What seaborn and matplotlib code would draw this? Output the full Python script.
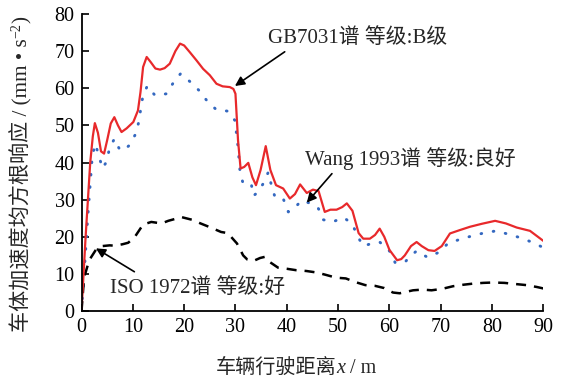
import numpy as np
import pandas as pd
import matplotlib
matplotlib.use("Agg")
import matplotlib.pyplot as plt
import seaborn as sns

# ---------------- data ----------------
gb_x = [0, 0.8, 1.7, 2.2, 2.6, 3.2, 3.8, 4.4, 5.0, 5.7, 6.4, 7.1, 7.8, 8.8, 10.1, 11.0, 11.5,
        12.0, 12.7, 13.5, 14.4, 15.3, 16.2, 17.2, 18.3, 19.2, 20.0, 21.1, 22.4, 23.7, 25.0,
        26.3, 27.5, 28.9, 29.6, 30.0, 30.5, 31.0, 31.7, 32.5, 33.3, 34.0, 34.9, 35.9, 36.8,
        37.9, 39.3, 40.6, 41.6, 42.6, 43.9, 45.1, 46.2, 47.4, 48.5, 49.7, 50.8, 51.7, 52.8,
        54.0, 54.9, 56.2, 57.2, 58.1, 59.0, 60.0, 61.5, 62.3, 63.0, 64.2, 65.3, 66.3, 67.6,
        68.8, 70.2, 71.8, 73.7, 75.7, 78.0, 80.6, 82.7, 84.8, 87.4, 90.0]
gb_y = [0, 20, 40, 47, 50.6, 48, 43, 42.4, 46, 50.5, 52.2, 50, 48.2, 49.2, 50.9, 54, 59,
        65.7, 68.4, 67, 65.3, 65, 65.4, 66.6, 70, 72, 71.5, 69.7, 67.5, 65.2, 63.5,
        61.2, 60.5, 60.3, 59.8, 58.5, 46, 38.4, 38.8, 39.9, 36, 33.9, 38, 44.4, 38,
        33.9, 33.0, 30.3, 31.5, 34.1, 31.8, 32.7, 32.3, 26.7, 27.3, 27.3, 28, 29, 27,
        21, 19.5, 19.5, 20.5, 22.2, 20, 16.5, 13.7, 14, 15, 17.5, 18.6, 17.5, 16.4,
        16.2, 17.5, 20.9, 21.8, 22.7, 23.5, 24.3, 23.6, 22.5, 21.6, 18.9]

wang_x = [0, 0.6, 1.2, 1.9, 2.1, 2.7, 3.4, 4.1, 4.9, 5.4, 6.4, 7.5, 8.4, 9.3, 10.6, 11.1,
          11.5, 11.9, 12.8, 14.3, 16.6, 17.9, 19.3, 21.2, 22.9, 24.4, 26.2, 28.6, 29.9,
          30.2, 30.5, 30.9, 31.5, 33.1, 33.5, 34.4, 35.4, 36.4, 37.0, 37.7, 39.3, 40.3,
          41.4, 42.9, 44.4, 46.1, 47.1, 48.9, 51.1, 52.8, 53.7, 54.9, 57.0, 58.1, 60.0,
          61.1, 63.0, 63.9, 65.3, 67.4, 69.6, 71.4, 73.7, 76.0, 78.3, 80.8, 83.2, 85.4,
          87.7, 90.0]
wang_y = [0, 12, 25, 38, 41.9, 45, 41.7, 38.4, 40.3, 43.5, 46.4, 43.3, 43.5, 44.6, 47.8, 50.6,
          54, 57.4, 60.6, 58.1, 58.5, 61.5, 63.9, 61.7, 59.4, 56.7, 54.3, 53.8, 51.3,
          47.8, 44.2, 37.4, 34.3, 34.1, 31, 32.1, 34.3, 37.4, 33.9, 30.7, 30.3, 26.7,
          27.6, 29.8, 29.1, 27.8, 24.6, 24, 25.2, 23.4, 20.4, 17.5, 18.4, 18.6, 16.2,
          13.1, 13.1, 14.6, 16.2, 14.5, 15.8, 18.2, 19.3, 20.2, 21, 21.6, 20.7, 19.8,
          18.6, 17.1]

iso_x = [0, 0.5, 1.5, 2.8, 4.0, 5.5, 6.5, 8.0, 9.1, 10.4, 12.0, 13.6, 15.6, 16.9, 19.5,
         21.5, 23.2, 25.0, 27.2, 28.5, 30.3, 31.5, 32.3, 33.5, 34.8, 35.7, 36.7, 38.3,
         40.0, 41.9, 43.8, 45.8, 47.5, 49.6, 51.5, 53.4, 55.3, 57.2, 59.0, 60.7, 62.0,
         64.6, 66.5, 68.2, 70.3, 72.4, 74.4, 76.3, 78.3, 80.2, 82.4, 84.5, 86.7, 88.7, 90.0]
iso_y = [0, 9, 13.7, 16.5, 17.5, 17.7, 17.6, 18, 18.4, 20, 23.3, 24, 23.6, 24.3, 25.3,
         24.6, 23.6, 22.6, 21.3, 21, 18.2, 15, 13.9, 13.5, 14.3, 14.6, 13.2, 11.7,
         11.4, 11, 10.8, 10.4, 9.8, 9, 8.8, 7.8, 7.0, 6.8, 6.2, 5.0, 4.8, 5.6, 5.8, 5.6,
         6.0, 6.7, 7.1, 7.4, 7.6, 7.7, 7.6, 7.3, 7.0, 6.5, 6.1]

x_ticks = [0, 10, 20, 30, 40, 50, 60, 70, 80, 90]
y_ticks = [0, 10, 20, 30, 40, 50, 60, 70, 80]

label_gb = "GB7031谱 等级:B级"
label_wang = "Wang 1993谱 等级:良好"
label_iso = "ISO 1972谱 等级:好"
xlabel_parts = ["车辆行驶距离", "x", " / m"]
ylabel_parts = ["车体加速度均方根响应 / (mm • s", "−2", ")"]

# ---------------- style ----------------
sns.set_theme(style="ticks")
FAM = ["Liberation Serif", "Noto Sans CJK SC", "DejaVu Serif"]
plt.rcParams["font.family"] = FAM
plt.rcParams["axes.unicode_minus"] = False

W, H = 566, 386
fig = plt.figure(figsize=(W / 100, H / 100), dpi=100)
ax = fig.add_axes([0.144, 0.194, 0.816, 0.770])

sns.lineplot(x=wang_x, y=wang_y, ax=ax, color="#3468c0", lw=2.1,
             linestyle=(0, (0.25, 4.0)), dash_capstyle="round", estimator=None)
sns.lineplot(x=iso_x, y=iso_y, ax=ax, color="black", lw=1.8,
             linestyle=(0, (4.0, 3.2)), estimator=None)
sns.lineplot(x=gb_x, y=gb_y, ax=ax, color="#e8292b", lw=1.6, estimator=None)

ax.set_xlim(0, 90)
ax.set_ylim(0, 80)
ax.set_xticks(x_ticks)
ax.set_yticks(y_ticks)
ax.tick_params(direction="in", length=5, width=1.2, labelsize=14.5, pad=5,
               colors="black")
for s in ["top", "right"]:
    ax.spines[s].set_visible(False)
for s in ["left", "bottom"]:
    ax.spines[s].set_linewidth(1.3)
    ax.spines[s].set_color("black")
ax.set_xlabel("")
ax.set_ylabel("")

arrow = dict(arrowstyle="-|>", color="black", lw=1.2, mutation_scale=14,
             shrinkA=0, shrinkB=0)
FS = 15
ax.text(36.3, 73.4, label_gb, fontsize=FS, ha="left", va="center")
ax.annotate("", xy=(29.9, 60.6), xytext=(39.6, 69.8), arrowprops=arrow)
ax.text(43.6, 41.1, label_wang, fontsize=FS, ha="left", va="center")
ax.annotate("", xy=(43.9, 29.2), xytext=(48.8, 37.0), arrowprops=arrow)
ax.text(5.5, 6.2, label_iso, fontsize=FS, ha="left", va="center")
ax.annotate("", xy=(2.8, 16.9), xytext=(10.3, 10.6), arrowprops=arrow)

# ---------------- axis labels built from pieces ----------------
fig.canvas.draw()
rend = fig.canvas.get_renderer()

# x label: centred at pixel x=296, baseline at pixel y=373 (from top)
xl_styles = [dict(), dict(style="italic"), dict()]
xts = [fig.text(0, 0, p, fontsize=14.5, ha="left", va="baseline", **st)
       for p, st in zip(xlabel_parts, xl_styles)]
widths = [t.get_window_extent(rend).width for t in xts]
x0 = 296 - sum(widths) / 2
base_y = 1 - 373 / H
for t, w in zip(xts, widths):
    t.set_position((x0 / W, base_y))
    x0 += w

# y label: rotated, baseline at pixel x=27, centred at pixel y=174 (from top)
yl_sizes = [15.2, 10, 15.2]
yts = [fig.text(0, 0, p, fontsize=fs, rotation=90, rotation_mode="anchor",
                ha="left", va="baseline") for p, fs in zip(ylabel_parts, yl_sizes)]
lens = [t.get_window_extent(rend).height for t in yts]
total = sum(lens)
y0 = (H - 174) - total / 2   # pixel from bottom
bx = 27
offsets = [0, -7, 0]
for t, L, off in zip(yts, lens, offsets):
    t.set_position(((bx + off) / W, y0 / H))
    y0 += L

fig.savefig("out.png", dpi=100)
